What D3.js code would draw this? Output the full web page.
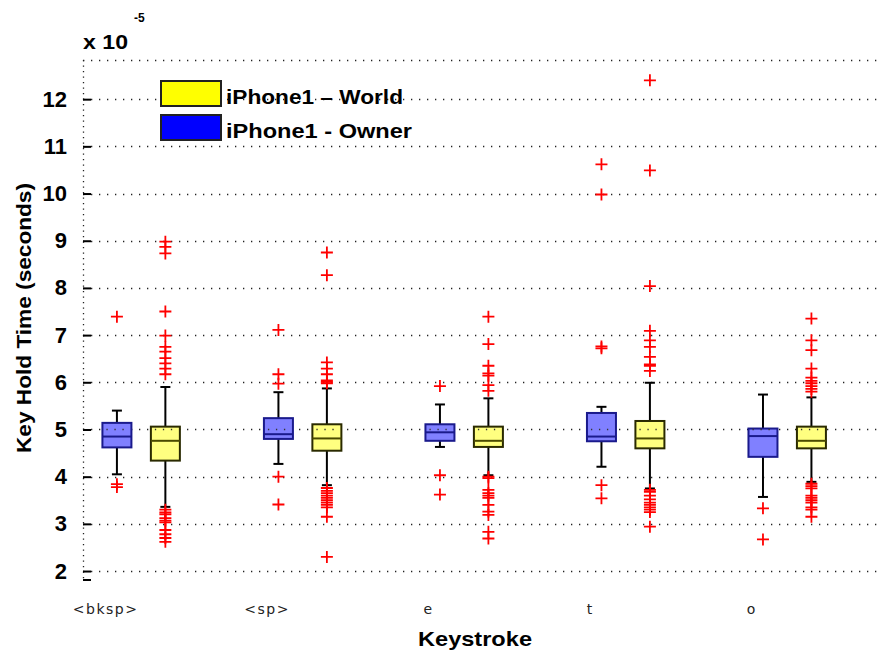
<!DOCTYPE html>
<html><head><meta charset="utf-8">
<script src="https://cdn.jsdelivr.net/npm/d3@7"></script>
<style>body{margin:0;background:#fff}svg{display:block}</style>
</head><body>
<svg id="chart" width="880" height="653"></svg>
<script>
// ---- data (values in units of 1e-5 s) ----
const categories = ["<bksp>", "<sp>", "e", "t", "o"];
const yTicks = [2, 3, 4, 5, 6, 7, 8, 9, 10, 11, 12];
const seriesNames = ["iPhone1 \u2013 World", "iPhone1 - Owner"];

const ownerLow    = [4.05, 4.27, 4.63, 4.21, 3.57];
const ownerQ1     = [4.62, 4.80, 4.76, 4.75, 4.42];
const ownerMedian = [4.85, 4.90, 4.94, 4.85, 4.86];
const ownerQ3     = [5.14, 5.24, 5.11, 5.35, 5.02];
const ownerHigh   = [5.40, 5.79, 5.53, 5.48, 5.74];
const ownerOutliers = [
  [7.39, 3.84, 3.78],
  [7.11, 6.17, 5.97, 4.00, 3.41],
  [5.92, 4.03, 3.62],
  [10.62, 9.98, 6.76, 6.72, 3.82, 3.54],
  [3.33, 2.67]
];

const worldLow    = [3.36, 3.82, 4.03, 3.75, 3.89];
const worldQ1     = [4.34, 4.55, 4.63, 4.60, 4.60];
const worldMedian = [4.76, 4.81, 4.76, 4.81, 4.76];
const worldQ3     = [5.06, 5.11, 5.06, 5.18, 5.06];
const worldHigh   = [5.90, 5.87, 5.66, 5.99, 5.68];
const worldOutliers = [
  [8.98, 8.87, 8.73, 7.50, 6.99, 6.75, 6.65, 6.51, 6.40, 6.29, 6.17,
   3.30, 3.24, 3.20, 3.12, 3.07, 3.03, 2.87, 2.78, 2.70, 2.62],
  [8.75, 8.27, 6.42, 6.29, 6.17, 6.04, 6.01, 5.98,
   3.76, 3.70, 3.65, 3.60, 3.55, 3.50, 3.45, 3.40, 3.35, 3.15, 2.30],
  [7.39, 6.81, 6.35, 6.19, 6.14, 5.94, 5.82,
   4.00, 3.97, 3.72, 3.65, 3.60, 3.55, 3.40, 3.26, 3.19, 2.83, 2.69],
  [12.40, 10.49, 8.04, 7.09, 6.89, 6.75, 6.54, 6.38, 6.35, 6.24,
   3.72, 3.68, 3.60, 3.52, 3.45, 3.40, 3.35, 3.30, 3.25, 2.94],
  [7.35, 6.89, 6.68, 6.29, 6.10, 6.03, 5.98, 5.92, 5.86, 5.80,
   3.85, 3.80, 3.75, 3.60, 3.55, 3.50, 3.45, 3.35, 3.30, 3.15]
];

// ---- layout ----
const svg = d3.select("#chart");
const plot = {left: 83, right: 877, top: 60, bottom: 580};
const y = d3.scaleLinear().domain([1.81, 12.83]).range([plot.bottom, plot.top]);
const x = d3.scaleLinear().domain([-0.21, 4.706]).range([plot.left, plot.right]);
const worldOffset = 0.3, labelOffset = -0.07;
const boxW = 29, capW = 10;
const font = "'Liberation Sans', Arial, sans-serif";

// grid lines
const rowY = v => Math.round(y(v)) + 0.5;
svg.append("g").selectAll("line").data(yTicks).join("line")
  .attr("x1", plot.left).attr("x2", plot.right)
  .attr("y1", rowY).attr("y2", rowY)
  .attr("stroke", "#222").attr("stroke-width", 1.3).attr("stroke-dasharray", "1.3,6.7");
// top border dotted
svg.append("line").attr("x1", plot.left).attr("x2", plot.right)
  .attr("y1", plot.top + 0.5).attr("y2", plot.top + 0.5)
  .attr("stroke", "#222").attr("stroke-width", 1.3).attr("stroke-dasharray", "1.3,6.7");
// left axis dotted
svg.append("line").attr("x1", plot.left + 0.5).attr("x2", plot.left + 0.5)
  .attr("y1", plot.top).attr("y2", plot.bottom)
  .attr("stroke", "#222").attr("stroke-width", 1.3).attr("stroke-dasharray", "1.3,4.2");

// y axis ticks and labels
const yAxis = d3.axisLeft(y).tickValues(yTicks).tickFormat(d3.format("d")).tickSizeInner(-8).tickSizeOuter(0).tickPadding(16);
const gy = svg.append("g").attr("transform", `translate(${plot.left},0)`).call(yAxis);
gy.select(".domain").remove();
gy.selectAll(".tick line").attr("stroke", "#000").attr("stroke-width", 2);
gy.selectAll(".tick text").attr("font-family", font).attr("font-weight", "bold")
  .attr("font-size", 22).attr("fill", "#000");
svg.append("line").attr("x1", plot.left).attr("x2", plot.left + 8)
  .attr("y1", plot.bottom).attr("y2", plot.bottom).attr("stroke", "#000").attr("stroke-width", 2);

// x tick labels
svg.append("g").selectAll("text").data(categories).join("text")
  .attr("x", (d, i) => x(i + labelOffset)).attr("y", 614)
  .attr("text-anchor", "middle").attr("font-family", "'DejaVu Sans', sans-serif")
  .attr("font-size", 14).attr("letter-spacing", 1.5).attr("fill", "#222")
  .text(d => d);

// boxes
function drawSeries(offset, low, q1, med, q3, high, outs, fill, stroke, medStroke) {
  const g = svg.append("g");
  categories.forEach((c, i) => {
    const cx = x(i + offset);
    g.append("line").attr("x1", cx).attr("x2", cx).attr("y1", y(high[i])).attr("y2", y(q3[i]))
      .attr("stroke", "#000").attr("stroke-width", 2);
    g.append("line").attr("x1", cx).attr("x2", cx).attr("y1", y(q1[i])).attr("y2", y(low[i]))
      .attr("stroke", "#000").attr("stroke-width", 2);
    [high[i], low[i]].forEach(v => g.append("line")
      .attr("x1", cx - capW / 2).attr("x2", cx + capW / 2).attr("y1", y(v)).attr("y2", y(v))
      .attr("stroke", "#000").attr("stroke-width", 2));
    g.append("rect").attr("x", cx - boxW / 2).attr("y", y(q3[i]))
      .attr("width", boxW).attr("height", y(q1[i]) - y(q3[i]))
      .attr("fill", fill).attr("stroke", stroke).attr("stroke-width", 2);
    yTicks.filter(t => t < q3[i] && t > q1[i]).forEach(t => g.append("line")
      .attr("x1", cx - boxW / 2 + 4).attr("x2", cx + boxW / 2 - 2)
      .attr("y1", rowY(t)).attr("y2", rowY(t))
      .attr("stroke", "#333").attr("stroke-width", 1.3).attr("stroke-dasharray", "1.3,6.7"));
    g.append("line").attr("x1", cx - boxW / 2).attr("x2", cx + boxW / 2)
      .attr("y1", y(med[i])).attr("y2", y(med[i]))
      .attr("stroke", medStroke).attr("stroke-width", 2);
    g.selectAll(null).data(outs[i]).join("path")
      .attr("d", v => `M${cx - 6},${y(v)}H${cx + 6}M${cx},${y(v) - 6}V${y(v) + 6}`)
      .attr("stroke", "#ff0000").attr("stroke-width", 1.8).attr("fill", "none");
  });
}
drawSeries(0, ownerLow, ownerQ1, ownerMedian, ownerQ3, ownerHigh, ownerOutliers, "#8080ff", "#1a1a8c", "#1a1a8c");
drawSeries(worldOffset, worldLow, worldQ1, worldMedian, worldQ3, worldHigh, worldOutliers, "#ffff80", "#2a2a00", "#4a4a00");

// legend
const legendColors = ["#ffff00", "#0000ff"];
const legendLengths = [177, 186];
const lg = svg.append("g");
seriesNames.forEach((n, i) => {
  lg.append("rect").attr("x", 161).attr("y", 81 + i * 34).attr("width", 60).attr("height", 25)
    .attr("fill", legendColors[i]).attr("stroke", "#222").attr("stroke-width", 2);
  lg.append("text").attr("x", 226).attr("y", 104 + i * 34)
    .attr("font-family", font).attr("font-weight", "bold").attr("font-size", 21).attr("fill", "#000")
    .attr("textLength", legendLengths[i]).attr("lengthAdjust", "spacingAndGlyphs")
    .text(n);
});

// exponent label
svg.append("text").attr("x", 83).attr("y", 49)
  .attr("font-family", font).attr("font-weight", "bold").attr("font-size", 20).attr("fill", "#000")
  .attr("textLength", 45).attr("lengthAdjust", "spacingAndGlyphs").text("x 10");
svg.append("text").attr("x", 134).attr("y", 22).attr("font-family", font).attr("font-weight", "bold")
  .attr("font-size", 12).text("-5");

// axis titles
svg.append("text").attr("transform", "translate(31,318) rotate(-90)").attr("text-anchor", "middle")
  .attr("font-family", font).attr("font-weight", "bold").attr("font-size", 20)
  .attr("textLength", 270).attr("lengthAdjust", "spacingAndGlyphs").text("Key Hold Time (seconds)");
svg.append("text").attr("x", 475).attr("y", 646).attr("text-anchor", "middle")
  .attr("font-family", font).attr("font-weight", "bold").attr("font-size", 21)
  .attr("textLength", 114).attr("lengthAdjust", "spacingAndGlyphs").text("Keystroke");
</script>
</body></html>
